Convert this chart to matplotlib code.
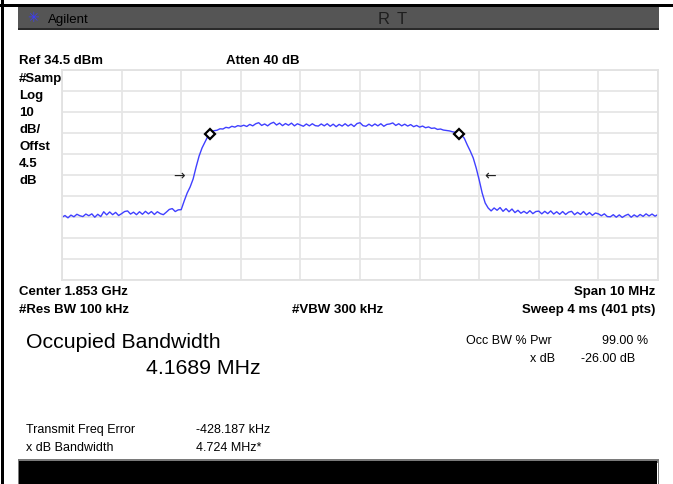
import numpy as np
import matplotlib
matplotlib.use("Agg")
import matplotlib.pyplot as plt
from matplotlib.patches import Rectangle

plt.rcParams['font.family'] = ['Liberation Sans', 'DejaVu Sans']

# ---- instrument settings ----
center_ghz = 1.853
span_mhz = 10.0
ref_dbm = 34.5
db_per_div = 10
n_div = 10

# ---- trace (dBm), 0.05 MHz steps from -5 MHz to +5 MHz offset ----
trace_dbm = [
    -35.6, -34.8, -35.9, -34.6, -35.4, -34.2, -34.9, -35.3, -34.1, -34.9,
    -34.0, -35.6, -34.2, -35.3, -33.0, -34.5, -33.1, -34.4, -33.3, -34.8,
    -33.9, -32.9, -32.6, -34.1, -33.2, -34.4, -33.0, -34.2, -32.8, -34.0,
    -32.9, -34.3, -33.0, -33.9, -34.4, -33.2, -31.9, -31.5, -32.9, -32.1,
    -32.0, -27.9, -24.1, -21.2, -17.4, -11.7, -6.5, -2.6, 0.2, 3.1,
    4.7, 5.6, 5.8, 6.5, 6.4, 7.2, 6.9, 7.7, 7.3, 8.0,
    7.7, 8.2, 7.6, 8.6, 7.9, 8.9, 9.4, 8.1, 8.8, 7.9,
    9.0, 9.6, 8.3, 9.2, 8.0, 9.0, 8.2, 9.2, 7.9, 8.9,
    8.3, 7.7, 8.8, 7.9, 8.9, 8.0, 7.8, 8.8, 7.9, 8.9,
    7.7, 8.7, 7.5, 8.6, 7.8, 8.9, 7.8, 8.7, 7.6, 9.0,
    9.4, 8.0, 7.7, 8.7, 7.8, 8.8, 7.9, 8.9, 7.7, 8.6,
    8.8, 9.3, 8.1, 8.9, 7.9, 8.7, 7.8, 8.5, 7.5, 8.1,
    7.3, 7.8, 7.0, 7.4, 6.7, 6.9, 6.2, 6.4, 5.9, 5.7,
    5.5, 5.1, 4.8, 4.3, 3.6, 2.0, -1.2, -4.1, -7.4, -12.2,
    -17.9, -24.1, -28.8, -31.2, -32.6, -31.2, -32.3, -31.0, -32.8, -31.5,
    -33.0, -31.7, -33.4, -32.3, -33.7, -32.8, -33.8, -32.5, -33.9, -32.9,
    -32.7, -34.0, -32.8, -33.9, -32.6, -34.1, -33.0, -34.2, -32.9, -34.3,
    -33.2, -32.8, -34.4, -33.3, -34.3, -32.9, -34.5, -33.4, -34.7, -33.6,
    -34.0, -34.9, -34.0, -35.3, -35.4, -34.4, -35.6, -34.5, -35.7, -34.8,
    -34.2, -35.6, -34.5, -35.4, -34.3, -35.2, -34.0, -35.0, -34.1, -35.1,
    -34.3,
]

# ---- measurement results ----
occ_bw_mhz = 4.1689
freq_err_mhz = -0.428187
xdb_bw_mhz = 4.724
xdb = -26.0
marker_dbm = 4.0
arrow_dbm = -16.0
arrow_gap_mhz = 0.25

W, H = 673, 484
fig = plt.figure(figsize=(W / 100, H / 100), dpi=100)
fig.patch.set_facecolor('white')

# overlay in pixel coordinates
ov = fig.add_axes([0, 0, 1, 1])
ov.set_xlim(0, W)
ov.set_ylim(H, 0)
ov.axis('off')

# frame lines
ov.add_patch(Rectangle((0, 4), W, 3, color='black', lw=0))
ov.add_patch(Rectangle((1, 0), 3, H, color='black', lw=0))
# header bar
ov.add_patch(Rectangle((18, 7), 641, 22, color='#555555', lw=0))
ov.add_patch(Rectangle((18, 28), 641, 1.5, color='#2a2a2a', lw=0))
# bottom bar
ov.add_patch(Rectangle((18, 459), 641, 25, color='#7a7a7a', lw=0))
ov.add_patch(Rectangle((19, 461), 638, 23, color='black', lw=0))
ov.add_patch(Rectangle((656.5, 463), 1.2, 21, color='white', lw=0))

# header texts
ov.text(33, 18.5, '✳', color='#3b3bff', fontsize=10, ha='center', va='center',
        family=['DejaVu Sans'])
ov.text(48, 23, 'Agilent', color='black', fontsize=9.5, va='baseline')
ov.text(378, 23.5, 'R', color='#1e1e1e', fontsize=12, va='baseline')
ov.text(397, 23.5, 'T', color='#1e1e1e', fontsize=12, va='baseline')

bold = dict(fontsize=9.5, fontweight='bold', color='black', va='baseline')
ov.text(19, 64, f'Ref {ref_dbm} dBm', **bold)
ov.text(226, 64, 'Atten 40 dB', **bold)
left_lbl = ['#Samp', 'Log', '10', 'dB/', 'Offst', '4.5', 'dB']
for k, s in enumerate(left_lbl):
    ov.text(19, 82 + 17 * k, s, **bold)

ov.text(19, 295, f'Center {center_ghz} GHz', **bold)
ov.text(655, 295, f'Span {span_mhz:g} MHz', ha='right', **bold)
ov.text(19, 313, '#Res BW 100 kHz', **bold)
ov.text(292, 313, '#VBW 300 kHz', **bold)
ov.text(655, 313, 'Sweep 4 ms (401 pts)', ha='right', **bold)

big = dict(fontsize=15.3, color='black', va='baseline')
ov.text(26, 348, 'Occupied Bandwidth', **big)
ov.text(146, 374, f'{occ_bw_mhz:.4f} MHz', **big)

small = dict(fontsize=9, color='black', va='baseline')
ov.text(466, 344, 'Occ BW % Pwr', **small)
ov.text(648, 344, '99.00 %', ha='right', **small)
ov.text(555, 362, 'x dB', ha='right', **small)
ov.text(581, 362, f'{xdb:.2f} dB', **small)
ov.text(26, 433, 'Transmit Freq Error', **small)
ov.text(196, 433, f'{freq_err_mhz * 1000:.3f} kHz', **small)
ov.text(26, 451, 'x dB Bandwidth', **small)
ov.text(196, 451, f'{xdb_bw_mhz:.3f} MHz*', **small)

# ---- spectrum axes ----
L, R, T, B = 62, 658, 70, 280
ax = fig.add_axes([L / W, 1 - B / H, (R - L) / W, (B - T) / H])
freq = np.linspace(-span_mhz / 2, span_mhz / 2, len(trace_dbm))
ax.plot(freq, trace_dbm, color='#4040ff', lw=1.0)
ax.set_xlim(-span_mhz / 2, span_mhz / 2)
ax.set_ylim(ref_dbm - db_per_div * n_div, ref_dbm)
ax.set_xticks(np.linspace(-span_mhz / 2, span_mhz / 2, n_div + 1))
ax.set_yticks(np.linspace(ref_dbm - db_per_div * n_div, ref_dbm, n_div + 1))
ax.grid(True, color='#e6e6e6', lw=1.3)
ax.tick_params(length=0, labelbottom=False, labelleft=False)
for sp in ax.spines.values():
    sp.set_color('#e2e2e2')
    sp.set_linewidth(1.3)
ax.set_axisbelow(True)

# occupied bandwidth markers
m_f = [freq_err_mhz - occ_bw_mhz / 2, freq_err_mhz + occ_bw_mhz / 2]
ax.plot(m_f, [marker_dbm] * 2, ls='none', marker='D', ms=5.5, mfc='white',
        mec='black', mew=1.6, zorder=5)
# x dB bandwidth arrows
a_l = freq_err_mhz - xdb_bw_mhz / 2 - arrow_gap_mhz
a_r = freq_err_mhz + xdb_bw_mhz / 2 + arrow_gap_mhz
ax.text(a_l, arrow_dbm, '→', ha='center', va='center', fontsize=10,
        color='#222222', family=['DejaVu Sans'])
ax.text(a_r, arrow_dbm, '←', ha='center', va='center', fontsize=10,
        color='#222222', family=['DejaVu Sans'])

fig.savefig('out.png', dpi=100, facecolor='white')
